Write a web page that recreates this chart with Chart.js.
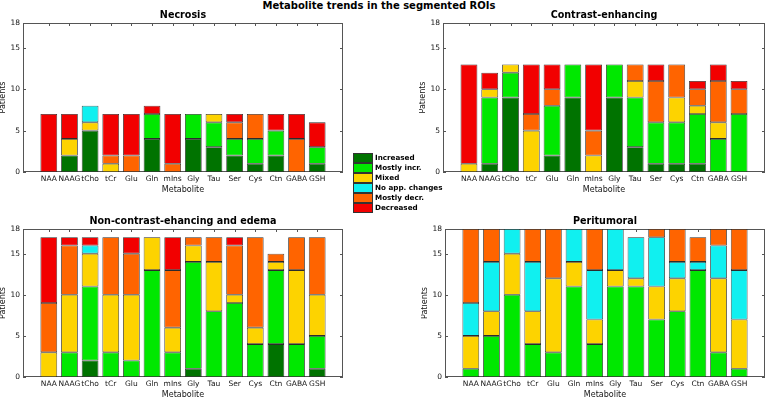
<!DOCTYPE html>
<html>
<head>
<meta charset="utf-8">
<script src="https://cdn.jsdelivr.net/npm/chart.js@4.4.1/dist/chart.umd.min.js"></script>
<style>
  body { margin: 0; background: #fff; font-family: "DejaVu Sans", sans-serif; }
  #fig { position: relative; width: 766px; height: 398px; overflow: hidden; background: #fff; }
  canvas { position: absolute; }
  .title { position: absolute; transform: translate(-50%, -50%); font-weight: bold; line-height: 1; white-space: nowrap; color: #000; }
  .legend-row { position: absolute; height: 10px; }
  .legend-row span.patch { position: absolute; left: 0; top: 0; width: 20px; height: 10px; box-sizing: border-box; border: 0.6px solid #333; }
  .legend-row span.text { position: absolute; left: 22px; top: 0; line-height: 10px; font-size: 7.2px; font-weight: bold; white-space: nowrap; color: #000; }
</style>
</head>
<body>
<div id="fig">
  <div class="title" style="left:379px; top:6px; font-size:10px;">Metabolite trends in the segmented ROIs</div>
</div>
<script>
// Categories and series (stack order bottom -> top)
const metabolites = ["NAA", "NAAG", "tCho", "tCr", "Glu", "Gln", "mIns", "Gly", "Tau", "Ser", "Cys", "Ctn", "GABA", "GSH"];
const seriesNames = ["Increased", "Mostly incr.", "Mixed", "No app. changes", "Mostly decr.", "Decreased"];
const seriesColors = ["#007300", "#00e800", "#fdd300", "#10f0f0", "#ff6400", "#f20000"];
const yTicks = [0, 5, 10, 15, 18];

// Patients per metabolite, one row per series (same order as seriesNames)
const necrosis = [
  [0, 2, 5, 0, 0, 4, 0, 4, 3, 2, 1, 2, 0, 1],
  [0, 0, 0, 0, 0, 3, 0, 3, 3, 2, 3, 3, 0, 2],
  [0, 2, 1, 1, 0, 0, 0, 0, 1, 0, 0, 0, 0, 0],
  [0, 0, 2, 0, 0, 0, 0, 0, 0, 0, 0, 0, 0, 0],
  [0, 0, 0, 1, 2, 0, 1, 0, 0, 2, 3, 0, 4, 0],
  [7, 3, 0, 5, 5, 1, 6, 0, 0, 1, 0, 2, 3, 3]
];
const contrastEnhancing = [
  [0, 1, 9, 0, 2, 9, 0, 9, 3, 1, 1, 1, 0, 0],
  [0, 8, 3, 0, 6, 4, 0, 4, 6, 5, 5, 6, 4, 7],
  [1, 1, 1, 5, 0, 0, 2, 0, 2, 0, 3, 1, 2, 0],
  [0, 0, 0, 0, 0, 0, 0, 0, 0, 0, 0, 0, 0, 0],
  [0, 0, 0, 2, 2, 0, 3, 0, 2, 5, 4, 2, 5, 3],
  [12, 2, 0, 6, 3, 0, 8, 0, 0, 2, 0, 1, 2, 1]
];
const nonContrast = [
  [0, 0, 2, 0, 0, 0, 0, 1, 0, 0, 0, 4, 0, 1],
  [0, 3, 9, 3, 2, 13, 3, 13, 8, 9, 4, 9, 4, 4],
  [3, 7, 4, 7, 8, 4, 3, 2, 6, 1, 2, 1, 9, 5],
  [0, 0, 1, 0, 0, 0, 0, 0, 0, 0, 0, 0, 0, 0],
  [6, 6, 0, 7, 5, 0, 7, 1, 3, 6, 11, 1, 4, 7],
  [8, 1, 1, 0, 2, 0, 4, 0, 0, 1, 0, 0, 0, 0]
];
const peritumoral = [
  [0, 0, 0, 0, 0, 0, 0, 0, 0, 0, 0, 0, 0, 0],
  [1, 5, 10, 4, 3, 11, 4, 11, 11, 7, 8, 13, 3, 1],
  [4, 3, 5, 4, 9, 3, 3, 2, 1, 4, 4, 0, 9, 6],
  [4, 6, 3, 6, 0, 4, 6, 5, 5, 6, 2, 1, 4, 6],
  [9, 4, 0, 4, 6, 0, 5, 0, 0, 1, 4, 3, 2, 5],
  [0, 0, 0, 0, 0, 0, 0, 0, 0, 0, 0, 0, 0, 0]
];

Chart.defaults.font.family = "'DejaVu Sans', sans-serif";
Chart.defaults.color = "#141414";

// plot boxes in page pixels: [left, top, right, bottom]
const panels = [
  { title: "Necrosis", values: necrosis, box: [23, 23, 343, 172], titleY: 15 },
  { title: "Contrast-enhancing", values: contrastEnhancing, box: [443, 23, 765, 172], titleY: 15 },
  { title: "Non-contrast-ehancing and edema", values: nonContrast, box: [23, 229, 343, 377], titleY: 220.5 },
  { title: "Peritumoral", values: peritumoral, box: [445, 229, 765, 377], titleY: 220.5 }
];

const Y_AXIS_W = 24, X_AXIS_H = 22, PAD_TOP = 8, PAD_RIGHT = 1;

// axes box + inward ticks, drawn under the bars like MATLAB
const axesFrame = {
  id: "axesFrame",
  beforeDatasetsDraw(chart) {
    const { ctx, chartArea: a, scales } = chart;
    ctx.save();
    ctx.strokeStyle = "#555";
    ctx.lineWidth = 1;
    ctx.strokeRect(a.left + 0.5, a.top + 0.5, a.right - a.left - 1, a.bottom - a.top - 1);
    ctx.beginPath();
    yTicks.forEach(v => {
      const y = Math.round(scales.y.getPixelForValue(v)) + 0.5;
      ctx.moveTo(a.left, y); ctx.lineTo(a.left + 3, y);
      ctx.moveTo(a.right, y); ctx.lineTo(a.right - 3, y);
    });
    metabolites.forEach((m, i) => {
      const x = Math.round(scales.x.getPixelForValue(i + 1)) + 0.5;
      ctx.moveTo(x, a.bottom); ctx.lineTo(x, a.bottom - 3);
      ctx.moveTo(x, a.top); ctx.lineTo(x, a.top + 3);
    });
    ctx.stroke();
    ctx.restore();
  }
};

const fig = document.getElementById("fig");

panels.forEach(p => {
  const [x0, y0, x1, y1] = p.box;
  const canvas = document.createElement("canvas");
  canvas.width = x1 - x0 + Y_AXIS_W + PAD_RIGHT;
  canvas.height = y1 - y0 + PAD_TOP + X_AXIS_H;
  canvas.style.left = (x0 - Y_AXIS_W) + "px";
  canvas.style.top = (y0 - PAD_TOP) + "px";
  fig.appendChild(canvas);

  const t = document.createElement("div");
  t.className = "title";
  t.style.left = ((x0 + x1) / 2) + "px";
  t.style.top = p.titleY + "px";
  t.style.fontSize = "9.6px";
  t.textContent = p.title;
  fig.appendChild(t);

  new Chart(canvas, {
    type: "bar",
    data: {
      datasets: seriesNames.map((name, s) => ({
        label: name,
        data: metabolites.map((m, i) => ({ x: i + 1, y: p.values[s][i] || null })),
        backgroundColor: seriesColors[s],
        borderColor: "#2b2b2b",
        borderWidth: 0.8,
        borderSkipped: false,
        barPercentage: 0.81,
        categoryPercentage: 1
      }))
    },
    options: {
      responsive: false,
      animation: false,
      layout: { padding: { top: PAD_TOP, right: PAD_RIGHT, left: 0, bottom: 0 } },
      plugins: { legend: { display: false }, tooltip: { enabled: false } },
      scales: {
        x: {
          type: "linear",
          stacked: true,
          offset: false,
          min: -0.25,
          max: 15.25,
          grid: { display: false, drawTicks: false },
          border: { display: false },
          afterBuildTicks: s => { s.ticks = metabolites.map((m, i) => ({ value: i + 1 })); },
          afterFit: s => { s.height = X_AXIS_H; },
          ticks: {
            autoSkip: false,
            maxRotation: 0,
            padding: 3,
            font: { size: 7.5 },
            callback: v => metabolites[v - 1]
          },
          title: { display: true, text: "Metabolite", font: { size: 8, lineHeight: 1 }, padding: 0 }
        },
        y: {
          stacked: true,
          min: 0,
          max: 18,
          grid: { display: false, drawTicks: false },
          border: { display: false },
          afterBuildTicks: s => { s.ticks = yTicks.map(v => ({ value: v })); },
          afterFit: s => { s.width = Y_AXIS_W; },
          ticks: { padding: 3, font: { size: 7.5 } },
          title: { display: true, text: "Patients", font: { size: 8, lineHeight: 1 }, padding: 0 }
        }
      }
    },
    plugins: [axesFrame]
  });
});

// legend in the middle of the figure
seriesNames.forEach((name, s) => {
  const row = document.createElement("div");
  row.className = "legend-row";
  row.style.left = "353px";
  row.style.top = (153 + s * 10) + "px";
  row.innerHTML = '<span class="patch" style="background:' + seriesColors[s] + '"></span><span class="text">' + name + '</span>';
  fig.appendChild(row);
});
</script>
</body>
</html>
